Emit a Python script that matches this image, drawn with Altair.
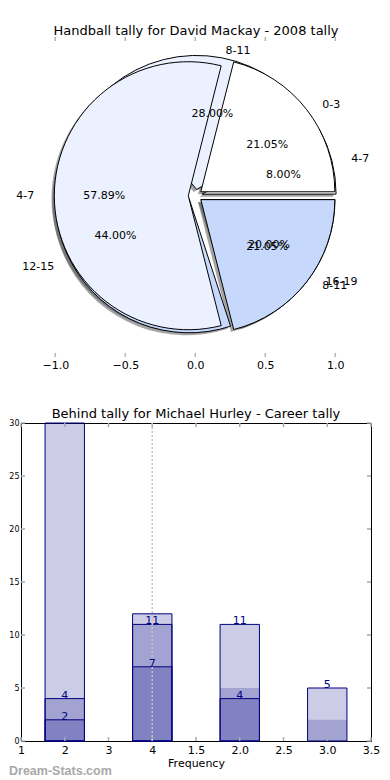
import math
import altair as alt
import pandas as pd

# ---------------- data ----------------
# pie 1 (drawn on top)
pie_a_labels = ["0-3", "4-7", "8-11"]
pie_a_values = [4, 11, 4]
pie_a_colors = ["#ffffff", "#ebf1fe", "#c6d9fd"]
# pie 2 (drawn underneath)
pie_b_labels = ["4-7", "8-11", "12-15", "16-19"]
pie_b_values = [2, 7, 11, 5]
pie_b_colors = ["#ffffff", "#ebf1fe", "#c6d9fd", "#a9c5fb"]
pie_ticks = [-1.0, -0.5, 0.0, 0.5, 1.0]

# bar chart (three overlaid translucent series)
bar_slots = [1, 3, 5, 7]
bar_low = [2, 7, 4, 0]
bar_mid = [4, 11, 11, 5]
bar_high = [30, 12, 5, 2]
bar_high_edged = [True, True, False, False]
x_tick_labels = ["1", "2", "3", "4", "1.5", "2.0", "2.5", "3.0", "3.5"]
x_tick_slots = list(range(len(x_tick_labels)))
y_ticks = [0, 5, 10, 15, 20, 25, 30]
marker_slot = [3]

FONT = "DejaVu Sans"
EXPLODE = 0.05
SHADOW = 0.02
BAR_W = 0.9

# ---------------- pie frame ----------------
def pie_rows(labels, values, colors, pie):
    total = sum(values)
    rows, cum = [], 0
    for lab, v, c in zip(labels, values, colors):
        f0 = cum / total
        cum += v
        f1 = cum / total
        mid = math.pi * (f0 + f1)
        dx, dy = EXPLODE * math.cos(mid), EXPLODE * math.sin(mid)
        lx = 1.1 * math.cos(mid) + dx
        rows.append(dict(
            pie=pie, label=lab, pct=f"{100 * v / total:.2f}%", color=c,
            t0=1 - f1, t1=1 - f0, cx=dx, cy=dy, sx=dx - SHADOW, sy=dy - SHADOW,
            lx=lx, ly=1.1 * math.sin(mid) + dy,
            px=0.6 * math.cos(mid) + dx, py=0.6 * math.sin(mid) + dy,
            side="left" if lx > 0 else "right"))
    return rows

pie_df = pd.DataFrame(pie_rows(pie_b_labels, pie_b_values, pie_b_colors, "b")
                      + pie_rows(pie_a_labels, pie_a_values, pie_a_colors, "a"))
pie_tick_df = pd.DataFrame({"v": pie_ticks})

W = 350
H_PIE = 320
H_BAR = 318
R = 134

xs = alt.Scale(domain=[-1.245, 1.255], nice=False, zero=False)
ys = alt.Scale(domain=[-1.258, 1.238], nice=False, zero=False)
th = alt.Scale(domain=[0, 1], range=[math.pi / 2, 5 * math.pi / 2])
pie_axis = alt.Axis(values=pie_ticks, format=".1f", ticks=False, tickSize=0,
                    domain=False, grid=False, labelFontSize=11, labelFont=FONT,
                    labelColor="black", labelPadding=2, labelFlush=False, title=None)

def PX(f):
    return alt.X(f, scale=xs, axis=pie_axis, title=None)

def PY(f):
    return alt.Y(f, scale=ys, axis=None)

shadows = alt.Chart(pie_df).mark_arc(radius=R, fill="#4c4c4c", opacity=0.5).encode(
    x=PX("sx:Q"), y=PY("sy:Q"),
    theta=alt.Theta("t0:Q", scale=th), theta2="t1:Q")

wedges = alt.Chart(pie_df).mark_arc(radius=R, stroke="black", strokeWidth=1).encode(
    x=PX("cx:Q"), y=PY("cy:Q"),
    theta=alt.Theta("t0:Q", scale=th), theta2="t1:Q",
    fill=alt.Fill("color:N", scale=None))

lab_left = alt.Chart(pie_df).transform_filter("datum.side == 'left'").mark_text(
    align="left", baseline="middle", fontSize=11, font=FONT, color="black").encode(
    x=PX("lx:Q"), y=PY("ly:Q"), text="label:N")
lab_right = alt.Chart(pie_df).transform_filter("datum.side == 'right'").mark_text(
    align="right", baseline="middle", fontSize=11, font=FONT, color="black").encode(
    x=PX("lx:Q"), y=PY("ly:Q"), text="label:N")
pcts = alt.Chart(pie_df).mark_text(
    align="center", baseline="middle", fontSize=11, font=FONT, color="black").encode(
    x=PX("px:Q"), y=PY("py:Q"), text="pct:N")

pie_top_ticks = alt.Chart(pie_tick_df).mark_rule(color="#b4b4b4", strokeWidth=1.5).encode(
    x=PX("v:Q"), y=alt.value(0), y2=alt.value(4))
pie_bot_ticks = alt.Chart(pie_tick_df).mark_rule(color="#b4b4b4", strokeWidth=1.5).encode(
    x=PX("v:Q"), y=alt.value(H_PIE - 4), y2=alt.value(H_PIE))

pie_chart = alt.layer(
    shadows, wedges, pie_top_ticks, pie_bot_ticks, lab_left, lab_right, pcts
).properties(
    width=W, height=H_PIE,
    title=alt.Title("Handball tally for David Mackay - 2008 tally", fontSize=13,
                    font=FONT, fontWeight="normal", color="black", offset=-2),
    view=alt.ViewBackground(stroke="transparent"))

# ---------------- bar frame ----------------
rows = []
for series, vals, edged_list, labelled in [
    ("high", bar_high, bar_high_edged, False),
    ("mid", bar_mid, [True] * 4, True),
    ("low", bar_low, [True] * 4, True),
]:
    for s, v, e in zip(bar_slots, vals, edged_list):
        if v <= 0:
            continue
        rows.append(dict(series=series, slot=s, x0=s - BAR_W / 2, x1=s + BAR_W / 2,
                         value=v, edge="navy" if e else "transparent",
                         txt=str(v) if labelled else ""))
bar_df = pd.DataFrame(rows)
xt_df = pd.DataFrame({"v": x_tick_slots})
yt_df = pd.DataFrame({"v": y_ticks})
mk_df = pd.DataFrame({"v": marker_slot})
wm_df = pd.DataFrame({"t": ["Dream-Stats.com"]})

bxs = alt.Scale(domain=[0, len(x_tick_labels) - 1], nice=False, zero=False)
bys = alt.Scale(domain=[0, 30], nice=False, zero=True)
label_expr = "[" + ",".join(f"'{l}'" for l in x_tick_labels) + "][datum.value]"
bx_axis = alt.Axis(values=x_tick_slots, labelExpr=label_expr, ticks=False, tickSize=0,
                   domain=False, grid=False, labelFontSize=11, labelFont=FONT,
                   labelColor="black", labelPadding=3, labelFlush=False,
                   title="Frequency", titleFontSize=11, titleFont=FONT,
                   titleFontWeight="normal", titleColor="black", titlePadding=2)
by_axis = alt.Axis(values=y_ticks, ticks=False, tickSize=0, domain=False, grid=False,
                   labelFontSize=8, labelFont=FONT, labelColor="black",
                   labelPadding=2, labelFlush=False, title=None)

def BX(f):
    return alt.X(f, scale=bxs, axis=bx_axis)

def BY(f):
    return alt.Y(f, scale=bys, axis=by_axis)

bars = alt.Chart(bar_df).mark_bar(fill="navy", fillOpacity=0.2, strokeWidth=1).encode(
    x=BX("x0:Q"), x2="x1:Q", y=BY("value:Q"), y2=alt.datum(0),
    stroke=alt.Stroke("edge:N", scale=None))

marker = alt.Chart(mk_df).mark_rule(color="#c4c4c4", strokeWidth=1.5, strokeDash=[2, 2]).encode(
    x=BX("v:Q"), y=alt.value(0), y2=alt.value(H_BAR))

bar_text = alt.Chart(bar_df).transform_filter("datum.txt != ''").mark_text(
    color="navy", fontSize=11, font=FONT, baseline="alphabetic", align="center").encode(
    x=BX("slot:Q"), y=BY("value:Q"), text="txt:N")

tick_style = dict(color="#a8a8a8", strokeWidth=1.5)
xb = alt.Chart(xt_df).mark_rule(**tick_style).encode(
    x=BX("v:Q"), y=alt.value(H_BAR - 4), y2=alt.value(H_BAR))
xtp = alt.Chart(xt_df).mark_rule(**tick_style).encode(
    x=BX("v:Q"), y=alt.value(0), y2=alt.value(4))
yl = alt.Chart(yt_df).mark_rule(**tick_style).encode(
    y=BY("v:Q"), x=alt.value(0), x2=alt.value(4))
yr = alt.Chart(yt_df).mark_rule(**tick_style).encode(
    y=BY("v:Q"), x=alt.value(W - 4), x2=alt.value(W))

watermark = alt.Chart(wm_df).mark_text(
    align="left", baseline="middle", fontSize=12.5, font="Liberation Sans",
    fontWeight="bold", color="#a8a8a8").encode(
    x=alt.value(-12), y=alt.value(H_BAR + 30), text="t:N")

bar_chart = alt.layer(
    bars, xb, xtp, yl, yr, marker, bar_text, watermark
).properties(
    width=W, height=H_BAR,
    title=alt.Title("Behind tally for Michael Hurley - Career tally", fontSize=13,
                    font=FONT, fontWeight="normal", color="black", offset=-2),
    view=alt.ViewBackground(stroke="black", strokeWidth=1))

chart = alt.vconcat(pie_chart, bar_chart, spacing=36).properties(
    padding={"left": 0, "top": 16, "right": 0, "bottom": 0}
).configure(background="white")

chart.save("out.html", embed_options={"renderer": "svg", "actions": False})
